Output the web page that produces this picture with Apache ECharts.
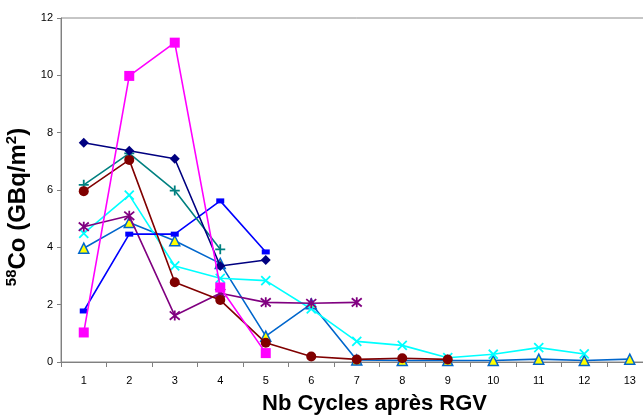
<!DOCTYPE html>
<html>
<head>
<meta charset="utf-8">
<script src="https://cdn.jsdelivr.net/npm/echarts@6/dist/echarts.min.js"></script>
<style>html,body{margin:0;padding:0;background:#fff;overflow:hidden;width:643px;height:416px;}#c{width:655px;height:416px;}</style>
</head>
<body>
<div id="c"></div>
<script>
const categories = ['1','2','3','4','5','6','7','8','9','10','11','12','13'];
const yTicks = [0, 2, 4, 6, 8, 10, 12];
const navyDiamond = [7.65, 7.37, 7.09, 3.35, 3.56];
const magentaSquare = [1.03, 9.98, 11.14, 2.6, 0.31];
const tealPlus = [6.18, 7.28, 5.98, 3.93];
const darkRedCircle = [5.96, 7.05, 2.78, 2.16, 0.67, 0.19, 0.09, 0.13, 0.09];
const cyanCross = [4.49, 5.82, 3.35, 2.92, 2.84, 1.85, 0.72, 0.58, 0.15, 0.27, 0.5, 0.28];
const purpleStar = [4.72, 5.1, 1.62, 2.4, 2.08, 2.05, 2.08];
const blueDash = [1.78, 4.46, 4.46, 5.62, 3.84];
const triangleSeries = [3.97, 4.87, 4.23, 3.44, 0.9, 2.03, 0.07, 0.05, 0.05, 0.05, 0.1, 0.05, 0.1];

const FONT = 'Liberation Sans, Arial, sans-serif';
const chart = echarts.init(document.getElementById('c'), null, {renderer: 'canvas'});

function mk(name, data, color, symbol, size, item, z) {
  return {
    name, type: 'line', data, symbol, symbolSize: size, z: z || 2,
    showAllSymbol: true, animation: false,
    lineStyle: {color, width: 1.6},
    itemStyle: item || {color},
    emphasis: {disabled: true}
  };
}

const X = 'path://M0,0L10,10M10,0L0,10';
const STAR = 'path://M0,0L10,10M10,0L0,10M5,-1L5,11';
const PLUS = 'path://M5,0L5,10M0,5L10,5';

chart.setOption({
  animation: false,
  grid: {left: 61, top: 18, right: 2.5, bottom: 54, show: true, borderColor: '#8c8c8c', borderWidth: 1, containLabel: false},
  xAxis: {
    type: 'category', data: categories, boundaryGap: true,
    axisLine: {lineStyle: {color: '#808080', width: 1}},
    axisTick: {show: true, length: 5, alignWithLabel: false, lineStyle: {color: '#808080'}},
    axisLabel: {color: '#000', fontSize: 11, fontFamily: FONT, margin: 13, interval: 0},
    splitLine: {show: false}
  },
  yAxis: {
    type: 'value', min: yTicks[0], max: yTicks[yTicks.length - 1], interval: 2,
    axisLine: {show: true, lineStyle: {color: '#808080', width: 1}},
    axisTick: {show: true, length: 4, lineStyle: {color: '#808080'}},
    axisLabel: {color: '#000', fontSize: 11, fontFamily: FONT, margin: 8},
    splitLine: {show: false}
  },
  graphic: [
    {type: 'text', x: 262, y: 404, style: {text: 'Nb Cycles après RGV', font: 'bold 22px ' + FONT, fill: '#000', verticalAlign: 'middle'}},
    {type: 'text', x: 18, y: 207, rotation: Math.PI / 2,
      style: {
        text: '{s|58}{b|Co (GBq/m}{s|2}{b|)}', align: 'center', verticalAlign: 'middle',
        rich: {
          s: {fontSize: 15, fontWeight: 'bold', fontFamily: FONT, fill: '#000', verticalAlign: 'top', lineHeight: 27},
          b: {fontSize: 24, fontWeight: 'bold', fontFamily: FONT, fill: '#000', lineHeight: 27}
        }
      }}
  ],
  series: [
    mk('triangle', triangleSeries, '#0066CC', 'triangle', 10, {color: '#FFFF00', borderColor: '#0066CC', borderWidth: 1.5}, 2),
    mk('cyan', cyanCross, '#00FFFF', X, 9, {color: 'rgba(0,0,0,0)', borderColor: '#00FFFF', borderWidth: 1.8}, 3),
    mk('purple', purpleStar, '#800080', STAR, 10, {color: 'rgba(0,0,0,0)', borderColor: '#800080', borderWidth: 1.8}, 4),
    mk('blue', blueDash, '#0000FF', 'rect', [8, 5], {color: '#0000FF'}, 5),
    mk('teal', tealPlus, '#008080', PLUS, 10, {color: 'rgba(0,0,0,0)', borderColor: '#008080', borderWidth: 1.8}, 5),
    mk('darkred', darkRedCircle, '#800000', 'circle', 10, {color: '#800000'}, 6),
    mk('navy', navyDiamond, '#000080', 'diamond', 10, {color: '#000080'}, 6),
    mk('magenta', magentaSquare, '#FF00FF', 'rect', 10, {color: '#FF00FF'}, 7)
  ]
});
</script>
</body>
</html>
